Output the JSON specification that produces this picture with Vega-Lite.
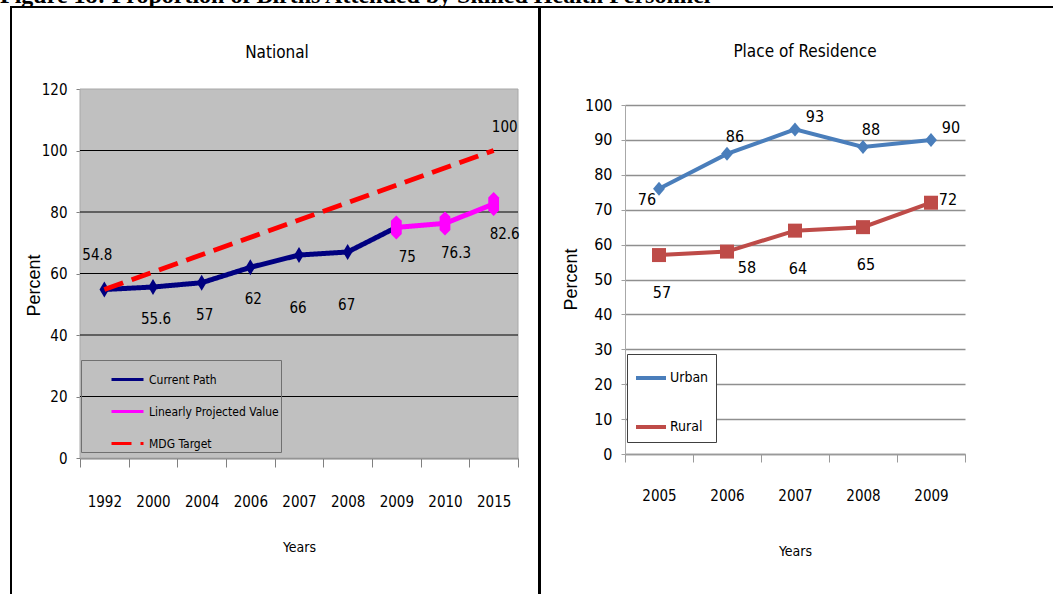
{
  "$schema": "https://vega.github.io/schema/vega-lite/v6.json",
  "padding": {"left": 0, "top": -16, "right": 0, "bottom": 0},
  "background": "white",
  "config": {
    "view": {"stroke": null},
    "font": "Liberation Sans Narrow, DejaVu Sans Condensed, Roboto Condensed, Roboto, sans-serif",
    "axis": {"labelFont": "Liberation Sans Narrow, DejaVu Sans Condensed, Roboto Condensed, Roboto, sans-serif", "titleFont": "Liberation Sans Narrow, DejaVu Sans Condensed, Roboto Condensed, Roboto, sans-serif", "labelColor": "black", "titleColor": "black", "titleFontWeight": "normal"},
    "title": {"font": "Liberation Sans Narrow, DejaVu Sans Condensed, Roboto Condensed, Roboto, sans-serif", "fontWeight": "normal", "color": "black"},
    "legend": {"labelFont": "Liberation Sans Narrow, DejaVu Sans Condensed, Roboto Condensed, Roboto, sans-serif", "labelColor": "black"},
    "text": {"font": "Liberation Sans Narrow, DejaVu Sans Condensed, Roboto Condensed, Roboto, sans-serif"}
  },
  "datasets": {
    "national": [
      {"year": "1992", "value": 54.8, "series": "Current Path"},
      {"year": "2000", "value": 55.6, "series": "Current Path"},
      {"year": "2004", "value": 57, "series": "Current Path"},
      {"year": "2006", "value": 62, "series": "Current Path"},
      {"year": "2007", "value": 66, "series": "Current Path"},
      {"year": "2008", "value": 67, "series": "Current Path"},
      {"year": "2009", "value": 75, "series": "Current Path"},
      {"year": "2009", "value": 75, "series": "Linearly Projected Value"},
      {"year": "2010", "value": 76.3, "series": "Linearly Projected Value"},
      {"year": "2015", "value": 82.6, "series": "Linearly Projected Value"},
      {"year": "1992", "value": 54.8, "series": "MDG Target"},
      {"year": "2015", "value": 100, "series": "MDG Target"}
    ],
    "residence": [
      {"year": "2005", "value": 76, "place": "Urban"},
      {"year": "2006", "value": 86, "place": "Urban"},
      {"year": "2007", "value": 93, "place": "Urban"},
      {"year": "2008", "value": 88, "place": "Urban"},
      {"year": "2009", "value": 90, "place": "Urban"},
      {"year": "2005", "value": 57, "place": "Rural"},
      {"year": "2006", "value": 58, "place": "Rural"},
      {"year": "2007", "value": 64, "place": "Rural"},
      {"year": "2008", "value": 65, "place": "Rural"},
      {"year": "2009", "value": 72, "place": "Rural"}
    ],
    "gridNational": [{"v": 20}, {"v": 40}, {"v": 60}, {"v": 80}, {"v": 100}],
    "blank": [{"k": 1}]
  },
  "bounds": "flush",
  "spacing": 0,
  "vconcat": [
    {
      "width": 1053, "height": 7,
      "view": {"stroke": null, "fill": null},
      "title": {"text": "Figure 18: Proportion of Births Attended by Skilled Health Personnel", "font": "Liberation Serif", "fontWeight": "bold", "fontSize": 24, "anchor": "start", "baseline": "alphabetic", "offset": -28, "color": "black"},
      "data": {"name": "blank"},
      "mark": {"type": "point", "opacity": 0}
    },
    {
      "bounds": "flush",
      "spacing": 0,
      "hconcat": [
        {"width": 10, "height": 2, "view": {"stroke": null, "fill": null}, "data": {"name": "blank"}, "mark": {"type": "point", "opacity": 0}},
        {"width": 1043, "height": 2, "view": {"stroke": null, "fill": "black"}, "data": {"name": "blank"}, "mark": {"type": "point", "opacity": 0}}
      ]
    },
    {
      "bounds": "flush",
      "spacing": 0,
      "resolve": {"scale": {"color": "independent", "strokeDash": "independent"}, "legend": {"color": "independent", "strokeDash": "independent"}},
      "hconcat": [
        {"width": 10, "height": 600, "view": {"stroke": null, "fill": null}, "data": {"name": "blank"}, "mark": {"type": "point", "opacity": 0}},
        {"width": 2, "height": 600, "view": {"stroke": null, "fill": "black"}, "data": {"name": "blank"}, "mark": {"type": "point", "opacity": 0}},
        {"width": 68, "height": 600, "view": {"stroke": null, "fill": null}, "data": {"name": "blank"}, "mark": {"type": "point", "opacity": 0}},
        {
          "width": 438,
          "height": 452,
          "view": {"fill": null, "stroke": null},
          "title": {"text": "National", "fontSize": 17, "dx": -22, "offset": -73, "frame": "group", "baseline": "bottom"},
          "layer": [
            {
              "data": {"name": "blank"},
              "mark": {"type": "rect", "fill": "#C0C0C0", "stroke": "#A8A8A8", "strokeWidth": 1},
              "encoding": {
                "y": {"datum": 0, "type": "quantitative", "title": "Percent",
                  "scale": {"domain": [0, 120], "range": [452, 83]},
                  "axis": {"title": "Percent", "titleFont": "Liberation Sans", "titleFontSize": 18, "titlePadding": -2, "titleY": 279, "values": [0, 20, 40, 60, 80, 100, 120], "tickSize": 4, "tickColor": "#808080", "domainColor": "#808080", "labelFontSize": 15, "labelPadding": 9, "grid": false}},
                "y2": {"datum": 120}
              }
            },
            {
              "data": {"name": "gridNational"},
              "mark": {"type": "rule", "color": "black", "strokeWidth": 1},
              "encoding": {"y": {"field": "v", "type": "quantitative", "title": "Percent"}}
            },
            {
              "data": {"name": "national"},
              "encoding": {
                "x": {
                  "field": "year", "type": "ordinal",
                  "scale": {"domain": ["1992", "2000", "2004", "2006", "2007", "2008", "2009", "2010", "2015"], "paddingInner": 0, "paddingOuter": 0},
                  "axis": {"title": "Years", "labelAngle": 0, "tickBand": "extent", "tickSize": 9, "tickColor": "#808080", "domainColor": "#808080", "domainWidth": 2, "labelFontSize": 15, "labelPadding": 27, "titleFontSize": 14, "titlePadding": 31, "grid": false}
                },
                "y": {"field": "value", "type": "quantitative", "title": "Percent"}
              },
              "layer": [
                {
                  "transform": [{"filter": "datum.series != 'MDG Target'"}],
                  "mark": {"type": "line", "strokeWidth": 5},
                  "encoding": {
                    "color": {"field": "series", "type": "nominal", "scale": {"domain": ["Current Path", "Linearly Projected Value", "MDG Target"], "range": ["#000080", "#FF00FF", "#FF0000"]},
                      "legend": {"title": null, "orient": "none", "legendX": 1, "legendY": 354, "symbolType": "stroke", "symbolSize": 1024, "symbolStrokeWidth": 3, "symbolOffset": 27, "padding": 2, "rowPadding": 8, "labelFontSize": 12, "labelOffset": 4, "strokeColor": "#707070", "fillColor": null, "labelLimit": 300}},
                    "strokeDash": {"field": "series", "type": "nominal", "scale": {"domain": ["Current Path", "Linearly Projected Value", "MDG Target"], "range": [[1, 0], [1, 0], [20, 9]]},
                      "legend": {"title": null, "orient": "none", "legendX": 1, "legendY": 354, "symbolType": "stroke", "symbolSize": 1024, "symbolStrokeWidth": 3, "symbolOffset": 27, "padding": 2, "rowPadding": 8, "labelFontSize": 12, "labelOffset": 4, "strokeColor": "#707070", "fillColor": null, "labelLimit": 300}}
                  }
                },
                {
                  "transform": [{"filter": "datum.series == 'Current Path'"}],
                  "mark": {"type": "point", "shape": "M0,-1L0.6,0L0,1L-0.6,0Z", "filled": true, "color": "#000080", "opacity": 1, "size": 256}
                },
                {
                  "transform": [{"filter": "datum.series == 'Linearly Projected Value'"}],
                  "mark": {"type": "point", "shape": "M0,-1L0.45,-0.55L0.45,0.55L0,1L-0.45,0.55L-0.45,-0.55Z", "filled": true, "color": "#FF00FF", "opacity": 1, "size": 576}
                },
                {
                  "transform": [{"filter": "datum.series == 'MDG Target'"}],
                  "mark": {"type": "line", "strokeWidth": 5},
                  "encoding": {
                    "color": {"field": "series", "type": "nominal", "scale": {"domain": ["Current Path", "Linearly Projected Value", "MDG Target"], "range": ["#000080", "#FF00FF", "#FF0000"]},
                      "legend": {"title": null, "orient": "none", "legendX": 1, "legendY": 354, "symbolType": "stroke", "symbolSize": 1024, "symbolStrokeWidth": 3, "symbolOffset": 27, "padding": 2, "rowPadding": 8, "labelFontSize": 12, "labelOffset": 4, "strokeColor": "#707070", "fillColor": null, "labelLimit": 300}},
                    "strokeDash": {"field": "series", "type": "nominal", "scale": {"domain": ["Current Path", "Linearly Projected Value", "MDG Target"], "range": [[1, 0], [1, 0], [20, 9]]},
                      "legend": {"title": null, "orient": "none", "legendX": 1, "legendY": 354, "symbolType": "stroke", "symbolSize": 1024, "symbolStrokeWidth": 3, "symbolOffset": 27, "padding": 2, "rowPadding": 8, "labelFontSize": 12, "labelOffset": 4, "strokeColor": "#707070", "fillColor": null, "labelLimit": 300}}
                  }
                },
                {
                  "transform": [{"filter": "datum.series == 'Current Path' && datum.year == '1992'"}],
                  "mark": {"type": "text", "fontSize": 15, "dx": -7, "dy": -34, "color": "black"},
                  "encoding": {"text": {"field": "value", "type": "quantitative"}}
                },
                {
                  "transform": [{"filter": "datum.series == 'Current Path' && (datum.year == '2000' || datum.year == '2004' || datum.year == '2006')"}],
                  "mark": {"type": "text", "fontSize": 15, "dx": 3, "dy": 32, "color": "black"},
                  "encoding": {"text": {"field": "value", "type": "quantitative"}}
                },
                {
                  "transform": [{"filter": "datum.series == 'Current Path' && (datum.year == '2007' || datum.year == '2008')"}],
                  "mark": {"type": "text", "fontSize": 15, "dx": -1, "dy": 53, "color": "black"},
                  "encoding": {"text": {"field": "value", "type": "quantitative"}}
                },
                {
                  "transform": [{"filter": "datum.series == 'Linearly Projected Value'"}],
                  "mark": {"type": "text", "fontSize": 15, "dx": 11, "dy": 30, "color": "black"},
                  "encoding": {"text": {"field": "value", "type": "quantitative"}}
                },
                {
                  "transform": [{"filter": "datum.series == 'MDG Target' && datum.year == '2015'"}],
                  "mark": {"type": "text", "fontSize": 15, "dx": 11, "dy": -24, "color": "black"},
                  "encoding": {"text": {"field": "value", "type": "quantitative"}}
                }
              ]
            }
          ]
        },
        {"width": 20, "height": 600, "view": {"stroke": null, "fill": null}, "data": {"name": "blank"}, "mark": {"type": "point", "opacity": 0}},
        {"width": 3, "height": 600, "view": {"stroke": null, "fill": "black"}, "data": {"name": "blank"}, "mark": {"type": "point", "opacity": 0}},
        {"width": 84, "height": 600, "view": {"stroke": null, "fill": null}, "data": {"name": "blank"}, "mark": {"type": "point", "opacity": 0}},
        {
          "width": 340,
          "height": 448,
          "view": {"fill": null, "stroke": null},
          "title": {"text": "Place of Residence", "fontSize": 17, "dx": 10, "offset": -72, "frame": "group", "baseline": "bottom"},
          "data": {"name": "residence"},
          "encoding": {
            "x": {
              "field": "year", "type": "ordinal",
              "scale": {"domain": ["2005", "2006", "2007", "2008", "2009"], "paddingInner": 0, "paddingOuter": 0},
              "axis": {"title": "Years", "labelAngle": 0, "tickBand": "extent", "tickSize": 8, "tickColor": "#9a9a9a", "domainColor": "#9a9a9a", "domainWidth": 1.5, "labelFontSize": 15, "labelPadding": 26, "titleFontSize": 14, "titlePadding": 41, "grid": false}
            },
            "y": {
              "field": "value", "type": "quantitative",
              "scale": {"domain": [0, 100], "range": [448, 99]},
              "axis": {"title": "Percent", "titleFont": "Liberation Sans", "titleFontSize": 18, "titlePadding": 4, "titleY": 273, "values": [0, 10, 20, 30, 40, 50, 60, 70, 80, 90, 100], "tickSize": 4, "tickColor": "#a0a0a0", "domainColor": "#a8a8a8", "labelFontSize": 16, "labelPadding": 9, "grid": true, "gridColor": "#8f8f8f", "gridWidth": 1.5, "gridOpacity": 1}
            }
          },
          "layer": [
            {
              "mark": {"type": "line", "strokeWidth": 4},
              "encoding": {
                "color": {"field": "place", "type": "nominal", "scale": {"domain": ["Urban", "Rural"], "range": ["#4A7EBB", "#BE4B48"]},
                  "legend": {"title": null, "orient": "none", "legendX": 2, "legendY": 348, "symbolType": "stroke", "symbolSize": 900, "symbolStrokeWidth": 4, "symbolOffset": 0, "padding": 7, "rowPadding": 24, "labelFontSize": 14, "labelOffset": 2, "strokeColor": "#404040", "fillColor": "white"}}
              }
            },
            {
              "transform": [{"filter": "datum.place == 'Urban'"}],
              "mark": {"type": "point", "shape": "M0,-1L0.85,0L0,1L-0.85,0Z", "filled": true, "color": "#4A7EBB", "opacity": 1, "size": 196}
            },
            {
              "transform": [{"filter": "datum.place == 'Rural'"}],
              "mark": {"type": "point", "shape": "square", "filled": true, "color": "#BE4B48", "opacity": 1, "size": 196}
            },
            {
              "transform": [{"filter": "datum.place == 'Urban' && datum.year == '2005'"}],
              "mark": {"type": "text", "fontSize": 16, "dx": -12, "dy": 11, "color": "black"},
              "encoding": {"text": {"field": "value", "type": "quantitative"}}
            },
            {
              "transform": [{"filter": "datum.place == 'Urban' && (datum.year == '2006' || datum.year == '2008')"}],
              "mark": {"type": "text", "fontSize": 16, "dx": 8, "dy": -17, "color": "black"},
              "encoding": {"text": {"field": "value", "type": "quantitative"}}
            },
            {
              "transform": [{"filter": "datum.place == 'Urban' && (datum.year == '2007' || datum.year == '2009')"}],
              "mark": {"type": "text", "fontSize": 16, "dx": 20, "dy": -12, "color": "black"},
              "encoding": {"text": {"field": "value", "type": "quantitative"}}
            },
            {
              "transform": [{"filter": "datum.place == 'Rural' && (datum.year == '2005' || datum.year == '2007' || datum.year == '2008')"}],
              "mark": {"type": "text", "fontSize": 16, "dx": 3, "dy": 38, "color": "black"},
              "encoding": {"text": {"field": "value", "type": "quantitative"}}
            },
            {
              "transform": [{"filter": "datum.place == 'Rural' && datum.year == '2006'"}],
              "mark": {"type": "text", "fontSize": 16, "dx": 20, "dy": 16, "color": "black"},
              "encoding": {"text": {"field": "value", "type": "quantitative"}}
            },
            {
              "transform": [{"filter": "datum.place == 'Rural' && datum.year == '2009'"}],
              "mark": {"type": "text", "fontSize": 16, "dx": 17, "dy": -3, "color": "black"},
              "encoding": {"text": {"field": "value", "type": "quantitative"}}
            }
          ]
        }
      ]
    }
  ]
}
